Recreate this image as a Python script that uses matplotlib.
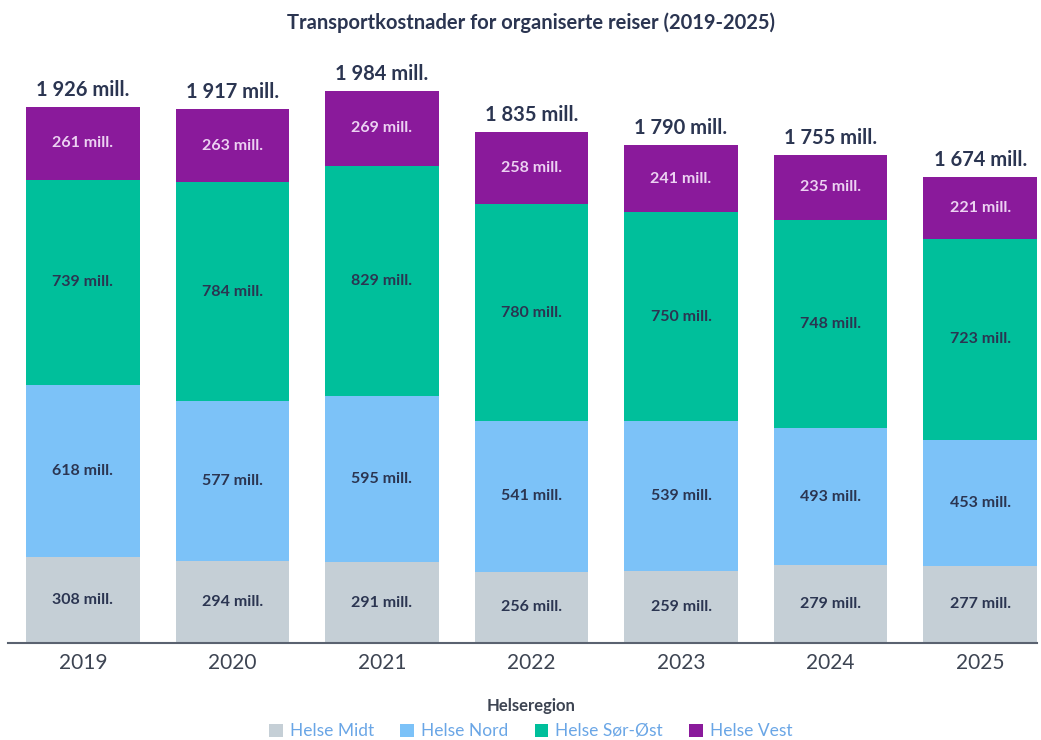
import matplotlib.pyplot as plt
import numpy as np

plt.rcParams['font.family'] = ['Lato', 'DejaVu Sans']

years = ['2019', '2020', '2021', '2022', '2023', '2024', '2025']
regions = ['Helse Midt', 'Helse Nord', 'Helse Sør-Øst', 'Helse Vest']
midt = [308, 294, 291, 256, 259, 279, 277]
nord = [618, 577, 595, 541, 539, 493, 453]
sor_ost = [739, 784, 829, 780, 750, 748, 723]
vest = [261, 263, 269, 258, 241, 235, 221]
# totals as printed (rounded separately from the parts)
totals = [1926, 1917, 1984, 1835, 1790, 1755, 1674]

colors = ['#c5cfd6', '#7cc2f8', '#00bf9b', '#8a1a9b']
label_colors = ['#2b3551', '#2b3551', '#2b3551', '#ecd2f2']
navy = '#2b3551'

fig = plt.figure(figsize=(10.41, 7.4), dpi=100)
ax = fig.add_axes([8 / 1041, 1 - 643 / 740, (1037 - 8) / 1041, (643 - 60) / 740])

x = np.arange(len(years))
bottom = np.zeros(len(years))
for series, name, col, lcol in zip([midt, nord, sor_ost, vest], regions, colors, label_colors):
    bars = ax.bar(x, series, 0.76, bottom=bottom, color=col, label=name)
    ax.bar_label(bars, labels=[f'{v} mill.' for v in series], label_type='center',
                 color=lcol, fontsize=11.5, fontweight='bold')
    bottom += np.array(series)

for xi, top, t in zip(x, bottom, totals):
    s = f'{t:,}'.replace(',', ' ')
    ax.annotate(f'{s} mill.', (xi, top), xytext=(0, 5), textcoords='offset points',
                ha='center', va='bottom', fontsize=14.5, fontweight='bold', color=navy)

ax.set_xlim(-0.5, 6.38)
ax.set_ylim(0, 2095)
ax.set_xticks(x, years)
ax.tick_params(axis='x', length=0, labelsize=15, labelcolor='#3d4452', pad=7)
ax.set_yticks([])
for side in ['top', 'right', 'left']:
    ax.spines[side].set_visible(False)
ax.spines['bottom'].set_color('#5a6270')
ax.spines['bottom'].set_linewidth(1.5)

fig.suptitle('Transportkostnader for organiserte reiser (2019-2025)', x=0.51, y=0.983,
             fontsize=14.5, fontweight='bold', color=navy)

leg = fig.legend(loc='lower center', bbox_to_anchor=(0.51, -0.02), ncol=4, frameon=False,
                 title='Helseregion', fontsize=12.5, handlelength=0.8, handleheight=0.8,
                 handletextpad=0.4, columnspacing=1.5, labelcolor='#6aa6e6')
leg.get_title().set_fontweight('bold')
leg.get_title().set_fontsize(12)
leg.get_title().set_color('#3d4452')

fig.savefig('out.png', dpi=100)
